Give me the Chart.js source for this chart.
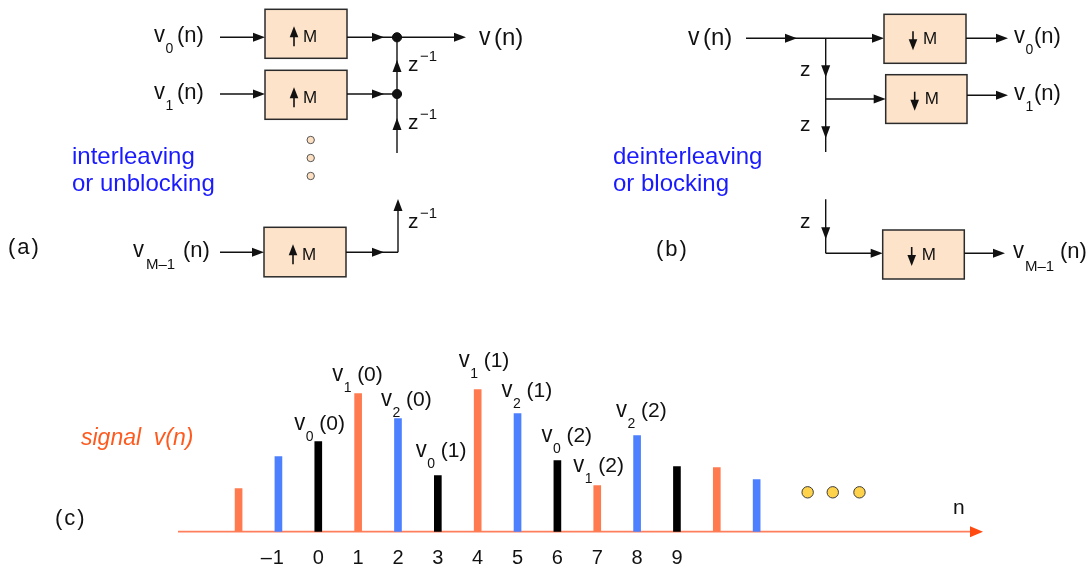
<!DOCTYPE html>
<html>
<head>
<meta charset="utf-8">
<script src="https://cdn.jsdelivr.net/npm/chart.js@4/dist/chart.umd.min.js"></script>
<style>
  html, body { margin: 0; padding: 0; background: #ffffff; }
  #wrap { width: 1092px; height: 569px; position: relative; }
  canvas { display: block; }
</style>
</head>
<body>
<div id="wrap"><canvas id="c" width="1092" height="569"></canvas></div>
<script>
// ---- data ----
const sampleN     = [-2, -1, 0, 1, 2, 3, 4, 5, 6, 7, 8, 9, 10, 11];
const sampleValue = [4.3, 7.5, 9.0, 13.8, 11.3, 5.6, 14.2, 11.8, 7.1, 4.6, 9.6, 6.5, 6.4, 5.2];
const tickValues  = [-1, 0, 1, 2, 3, 4, 5, 6, 7, 8, 9];
const tickLabels  = ['–1', '0', '1', '2', '3', '4', '5', '6', '7', '8', '9'];
const labelN      = [0, 1, 2, 3, 4, 5, 6, 7, 8];
const labelSub    = ['0', '1', '2', '0', '1', '2', '0', '1', '2'];
const labelArg    = ['0', '0', '0', '1', '1', '1', '2', '2', '2'];
const moreDotsN     = [12.28, 12.91, 13.58];
const moreDotsValue = [3.94, 3.94, 3.94];

// ---- styles ----
const FONT = '"Liberation Sans", Arial, Helvetica, sans-serif';
const INK = '#111111';
const ORANGE = '#FF7B4F';
const BLUE = '#4C80FF';
const BLACK = '#000000';
const BOXFILL = '#FCE3CA';
const TEXTBLUE = '#1A1AFF';
function colorFor(n) {
  const m = ((n % 3) + 3) % 3;
  return m === 0 ? BLACK : (m === 1 ? ORANGE : BLUE);
}

// ---- drawing helpers ----
function line(ctx, x1, y1, x2, y2, w, color) {
  ctx.save();
  ctx.strokeStyle = color || INK; ctx.lineWidth = w || 1.4;
  ctx.beginPath(); ctx.moveTo(x1, y1); ctx.lineTo(x2, y2); ctx.stroke();
  ctx.restore();
}
function head(ctx, x, y, dir, len, half, color) {
  len = len || 12; half = half || 4.5;
  ctx.save(); ctx.fillStyle = color || INK; ctx.beginPath();
  if (dir === 'r') { ctx.moveTo(x, y); ctx.lineTo(x - len, y - half); ctx.lineTo(x - len, y + half); }
  if (dir === 'l') { ctx.moveTo(x, y); ctx.lineTo(x + len, y - half); ctx.lineTo(x + len, y + half); }
  if (dir === 'u') { ctx.moveTo(x, y); ctx.lineTo(x - half, y + len); ctx.lineTo(x + half, y + len); }
  if (dir === 'd') { ctx.moveTo(x, y); ctx.lineTo(x - half, y - len); ctx.lineTo(x + half, y - len); }
  ctx.closePath(); ctx.fill(); ctx.restore();
}
function text(ctx, s, x, y, size, opts) {
  opts = opts || {};
  ctx.save();
  ctx.font = (opts.style || '') + ' ' + size + 'px ' + FONT;
  ctx.fillStyle = opts.color || INK;
  ctx.textAlign = opts.align || 'left';
  ctx.textBaseline = 'alphabetic';
  if (opts.spacing) ctx.letterSpacing = opts.spacing;
  ctx.fillText(s, x, y);
  ctx.restore();
}
function tallV(ctx, x, base, size, sy) {
  ctx.save();
  ctx.font = size + 'px ' + FONT; ctx.fillStyle = INK;
  ctx.textAlign = 'left'; ctx.textBaseline = 'alphabetic';
  ctx.translate(x, base); ctx.scale(1, sy); ctx.fillText('v', 0, 0);
  ctx.restore();
}
// v_sub(tail)
function vLabel(ctx, x, base, sub, tail, tailDx, tailSize) {
  tallV(ctx, x, base, 22, 1.1);
  text(ctx, sub, x + 11.5, base + 11, 14);
  text(ctx, '(' + tail + ')', x + tailDx, base, tailSize || 21);
}
function box(ctx, x, y, w, h) {
  ctx.save();
  ctx.fillStyle = BOXFILL; ctx.fillRect(x, y, w, h);
  ctx.strokeStyle = '#2b2b2b'; ctx.lineWidth = 1.5; ctx.strokeRect(x, y, w, h);
  ctx.restore();
}
function upBox(ctx, x, y, w, h) {
  box(ctx, x, y, w, h);
  const ax = x + 29;
  line(ctx, ax, y + 37, ax, y + 24, 1.6);
  head(ctx, ax, y + 17, 'u', 11, 4.3);
  text(ctx, 'M', x + 38, y + 32.5, 17);
}
function downBox(ctx, x, y, w, h) {
  box(ctx, x, y, w, h);
  const ax = x + 29;
  line(ctx, ax, y + 17, ax, y + 29, 1.6);
  head(ctx, ax, y + 36, 'd', 11, 4.3);
  text(ctx, 'M', x + 39, y + 29.5, 17);
}
function zInv(ctx, x, base) {
  text(ctx, 'z', x, base, 21);
  text(ctx, '−1', x + 12, base - 10, 15);
}
function dot(ctx, x, y, r, fill, stroke) {
  ctx.save(); ctx.beginPath(); ctx.arc(x, y, r, 0, Math.PI * 2);
  ctx.fillStyle = fill; ctx.fill();
  ctx.strokeStyle = stroke; ctx.lineWidth = 1; ctx.stroke(); ctx.restore();
}

// placement of the annotation labels above bars: [dx from bar centre, gap above bar top]
const labelPlace = [[-24, 12], [-26, 13], [-17, 13], [-22, 19], [-19, 23], [-16, 17], [-16, 19], [-24, 14], [-21, 19]];

const diagramPlugin = {
  id: 'diagram',
  beforeDatasetsDraw(chart) {
    const ctx = chart.ctx, ys = chart.scales.y;
    const y0 = ys.getPixelForValue(0);
    line(ctx, chart.chartArea.left, y0, chart.chartArea.right - 12, y0, 1.8, '#FF7F5C');
    head(ctx, chart.chartArea.right, y0, 'r', 13, 5.5, '#FF4A12');
  },
  afterDraw(chart) {
    const ctx = chart.ctx, xs = chart.scales.x, ys = chart.scales.y;
    const y0 = ys.getPixelForValue(0);

    // ---- (c) tick labels ----
    ctx.save();
    ctx.font = '20px ' + FONT;
    tickLabels.forEach((lab, i) => {
      const px = xs.getPixelForValue(tickValues[i]);
      if (lab.startsWith('–')) {
        const rest = lab.slice(1);
        const wr = ctx.measureText(rest).width;
        text(ctx, rest, px, y0 + 32, 20, { align: 'center' });
        text(ctx, '–', px - wr / 2 - 1, y0 + 32, 20, { align: 'right' });
      } else {
        text(ctx, lab, px, y0 + 32, 20, { align: 'center' });
      }
    });
    ctx.restore();

    // ---- (c) sample labels ----
    labelN.forEach((n, i) => {
      const idx = sampleN.indexOf(n);
      const px = xs.getPixelForValue(n);
      const top = ys.getPixelForValue(sampleValue[idx]);
      const p = labelPlace[i];
      vLabel(ctx, px + p[0], top - p[1], labelSub[i], labelArg[i], 25, 21);
    });

    text(ctx, 'n', 953, 514, 21);
    text(ctx, 'signal  v(n)', 81, 445, 23, { style: 'italic', color: '#FF5A1E' });
    text(ctx, '(c)', 55, 525, 22, { spacing: '2px' });

    // ---- (a) interleaving ----
    upBox(ctx, 265, 9.3, 82, 49);
    upBox(ctx, 265, 70.3, 82, 49);
    upBox(ctx, 264, 227.3, 82, 49.5);
    // inputs
    line(ctx, 220, 37.3, 258, 37.3); head(ctx, 265, 37.3, 'r');
    line(ctx, 220, 94, 258, 94); head(ctx, 265, 94, 'r');
    line(ctx, 220, 252.3, 257, 252.3); head(ctx, 264, 252.3, 'r');
    vLabel(ctx, 154, 42, '0', 'n', 23, 22);
    vLabel(ctx, 154, 99, '1', 'n', 23, 22);
    tallV(ctx, 133, 257, 22, 1.1);
    text(ctx, 'M–1', 146, 269, 15);
    text(ctx, '(n)', 183, 257, 22);
    // box outputs to junctions
    line(ctx, 347, 37.3, 397, 37.3); head(ctx, 384, 37.3, 'r');
    line(ctx, 347, 94, 397, 94); head(ctx, 384, 94, 'r');
    line(ctx, 397, 37.3, 458, 37.3); head(ctx, 466, 37.3, 'r');
    line(ctx, 397, 37.3, 397, 153);
    head(ctx, 397, 60, 'u'); head(ctx, 397, 118, 'u');
    dot(ctx, 397, 37.3, 4.6, INK, INK);
    dot(ctx, 397, 94, 4.6, INK, INK);
    zInv(ctx, 408, 71);
    zInv(ctx, 408, 129);
    line(ctx, 346, 252.3, 398, 252.3); head(ctx, 384, 252.3, 'r');
    line(ctx, 398, 252.3, 398, 206); head(ctx, 398, 199, 'u');
    zInv(ctx, 408, 228);
    tallV(ctx, 479, 45, 23, 1.1);
    text(ctx, '(n)', 494, 45, 24);
    // ellipsis dots
    dot(ctx, 310.7, 140, 3.7, '#FDE0C2', '#555555');
    dot(ctx, 310.7, 158, 3.7, '#FDE0C2', '#555555');
    dot(ctx, 310.7, 176, 3.7, '#FDE0C2', '#555555');
    text(ctx, 'interleaving', 72, 164, 24, { color: TEXTBLUE });
    text(ctx, 'or unblocking', 72, 191, 24, { color: TEXTBLUE });
    text(ctx, '(a)', 8, 254, 22, { spacing: '2px' });

    // ---- (b) deinterleaving ----
    tallV(ctx, 688, 45, 23, 1.1);
    text(ctx, '(n)', 703, 45, 24);
    line(ctx, 746, 38.3, 876, 38.3);
    head(ctx, 797, 38.3, 'r'); head(ctx, 884, 38.3, 'r');
    line(ctx, 825.7, 38.3, 825.7, 152);
    head(ctx, 825.7, 77.3, 'd'); head(ctx, 825.7, 138.3, 'd');
    line(ctx, 825.7, 99, 878, 99); head(ctx, 885.7, 99, 'r');
    text(ctx, 'z', 800, 76, 21);
    text(ctx, 'z', 800, 131, 21);
    line(ctx, 825.7, 199.3, 825.7, 253.3); head(ctx, 825.7, 239.3, 'd');
    line(ctx, 825.7, 253.3, 875, 253.3); head(ctx, 882.7, 253.3, 'r');
    text(ctx, 'z', 800, 228, 21);
    downBox(ctx, 884, 14.3, 82, 49);
    downBox(ctx, 885.7, 74.7, 81.3, 48.7);
    downBox(ctx, 882.7, 230, 81.6, 49);
    line(ctx, 966, 38.3, 1001, 38.3); head(ctx, 1008, 38.3, 'r');
    line(ctx, 967, 95.3, 1001, 95.3); head(ctx, 1008, 95.3, 'r');
    line(ctx, 964.3, 253.3, 998, 253.3); head(ctx, 1005, 253.3, 'r');
    vLabel(ctx, 1014, 43, '0', 'n', 20, 22);
    vLabel(ctx, 1014, 100, '1', 'n', 20, 22);
    tallV(ctx, 1013, 258, 22, 1.1);
    text(ctx, 'M–1', 1025, 271, 15);
    text(ctx, '(n)', 1060, 258, 22);
    text(ctx, 'deinterleaving', 613, 164, 24, { color: TEXTBLUE });
    text(ctx, 'or blocking', 613, 191, 24, { color: TEXTBLUE });
    text(ctx, '(b)', 656, 256, 22, { spacing: '2px' });
  }
};

new Chart(document.getElementById('c').getContext('2d'), {
  type: 'bar',
  data: {
    datasets: [
      {
        type: 'bar',
        data: sampleN.map((n, i) => ({ x: n, y: sampleValue[i] })),
        backgroundColor: sampleN.map(colorFor),
        borderWidth: 0,
        barThickness: 7
      },
      {
        type: 'scatter',
        data: moreDotsN.map((n, i) => ({ x: n, y: moreDotsValue[i] })),
        pointRadius: 5.7,
        backgroundColor: '#FFD24C',
        borderColor: '#3a3a3a',
        borderWidth: 1
      }
    ]
  },
  options: {
    responsive: false,
    animation: false,
    devicePixelRatio: 1,
    events: [],
    layout: { padding: { left: 178, right: 109, top: 331.7, bottom: 37.3 } },
    plugins: { legend: { display: false }, tooltip: { enabled: false }, title: { display: false } },
    scales: {
      x: { type: 'linear', min: -3.52, max: 16.68, display: false, offset: false },
      y: { type: 'linear', min: 0, max: 20, display: false }
    }
  },
  plugins: [diagramPlugin]
});
</script>
</body>
</html>
